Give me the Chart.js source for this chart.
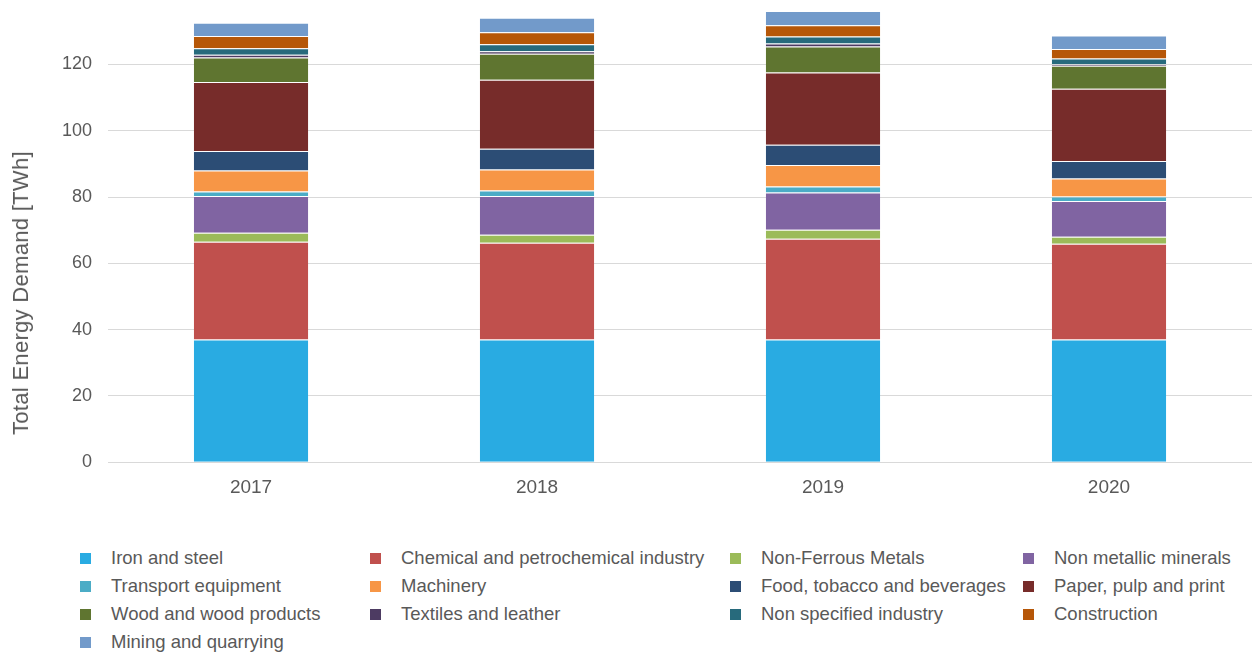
<!DOCTYPE html>
<html>
<head>
<meta charset="utf-8">
<script src="https://cdn.jsdelivr.net/npm/chart.js@4"></script>
<style>
  body{margin:0;background:#fff;font-family:"Liberation Sans",Arial,sans-serif;overflow:hidden;}
  #wrap{position:relative;width:1252px;height:527px;margin-top:-22px;}
  #ytitle{position:absolute;left:21px;top:293px;transform:translate(-50%,-50%) rotate(-90deg);white-space:nowrap;font-size:22px;letter-spacing:0.3px;color:#595959;}
  #legend{position:absolute;top:547px;left:77px;display:grid;grid-template-columns:290px 360px 293px 260px;row-gap:6px;}
  .item{display:flex;align-items:center;height:22px;font-size:18.5px;color:#595959;}
  .sw{width:11px;height:11px;margin-right:20px;margin-left:3px;}
</style>
</head>
<body>
<div id="wrap"><canvas id="chart"></canvas></div>
<div id="ytitle">Total Energy Demand [TWh]</div>
<div id="legend"></div>
<script>
// years on the x axis
const years=['2017','2018','2019','2020'];
// sector values in TWh
const ironSteel=[37,37,37,37];
const chemical=[29.5,29.2,30.4,28.9];
const nonFerrous=[2.7,2.4,2.7,2.1];
const nonMetallic=[11.1,11.7,11.3,10.8];
const transport=[1.4,1.7,1.8,1.4];
const machinery=[6.3,6.3,6.5,5.4];
const food=[5.9,6.3,6.1,5.3];
const paper=[20.8,20.8,21.8,21.8];
const wood=[7.4,7.8,7.8,6.9];
const textiles=[0.8,0.8,0.9,0.5];
const nonSpecified=[2.0,2.1,2.1,1.7];
const construction=[3.7,3.6,3.4,2.9];
const mining=[4.0,4.4,4.3,4.0];
// y axis tick values
const yTicks=[0,20,40,60,80,100,120];

const series=[
    ['Iron and steel',ironSteel,'#29ABE2'],
    ['Chemical and petrochemical industry',chemical,'#C0504D'],
    ['Non-Ferrous Metals',nonFerrous,'#9BBB59'],
    ['Non metallic minerals',nonMetallic,'#8064A2'],
    ['Transport equipment',transport,'#4BACC6'],
    ['Machinery',machinery,'#F79646'],
    ['Food, tobacco and beverages',food,'#2C4D75'],
    ['Paper, pulp and print',paper,'#772C2A'],
    ['Wood and wood products',wood,'#5F7530'],
    ['Textiles and leather',textiles,'#4D3B62'],
    ['Non specified industry',nonSpecified,'#276A7C'],
    ['Construction',construction,'#B65708'],
    ['Mining and quarrying',mining,'#729ACA']
];

window.addEventListener('load',()=>{
    // building the legend as html so the columns line up
    const legend=document.getElementById('legend');
    series.forEach(s=>{
        const item=document.createElement('div');
        item.className='item';
        item.innerHTML=`<span class="sw" style="background:${s[2]}"></span>${s[0]}`;
        legend.appendChild(item);
    });
    createchart();
});

function createchart(){
    const ctx=document.getElementById('chart').getContext('2d');
    const tickColor='#595959';
    new Chart(ctx,{
        type:'bar',
        data:{
            labels:years,
            datasets:series.map(s=>({
                label:s[0],
                data:s[1],
                backgroundColor:s[2],
                borderColor:'rgba(255,255,255,0.15)',
                borderWidth:{top:1},
                borderSkipped:false,
                categoryPercentage:1,
                barPercentage:0.4
            }))
        },
        options:{
            responsive:true,
            maintainAspectRatio:false,
            animation:false,
            layout:{padding:{top:0,right:0,left:46}},
            plugins:{legend:{display:false},tooltip:{enabled:false}},
            scales:{
                x:{
                    stacked:true,
                    grid:{display:false},
                    border:{color:'#d9d9d9'},
                    ticks:{color:tickColor,font:{size:19,family:'Liberation Sans'},padding:6}
                },
                y:{
                    stacked:true,
                    min:0,max:138,
                    // only keep the round ticks, not the top one
                    afterBuildTicks:axis=>{axis.ticks=yTicks.map(v=>({value:v}));},
                    grid:{color:'#d9d9d9',drawTicks:false},
                    border:{display:false},
                    ticks:{color:tickColor,font:{size:18,family:'Liberation Sans'},padding:16}
                }
            }
        }
    });
}
</script>
</body>
</html>
